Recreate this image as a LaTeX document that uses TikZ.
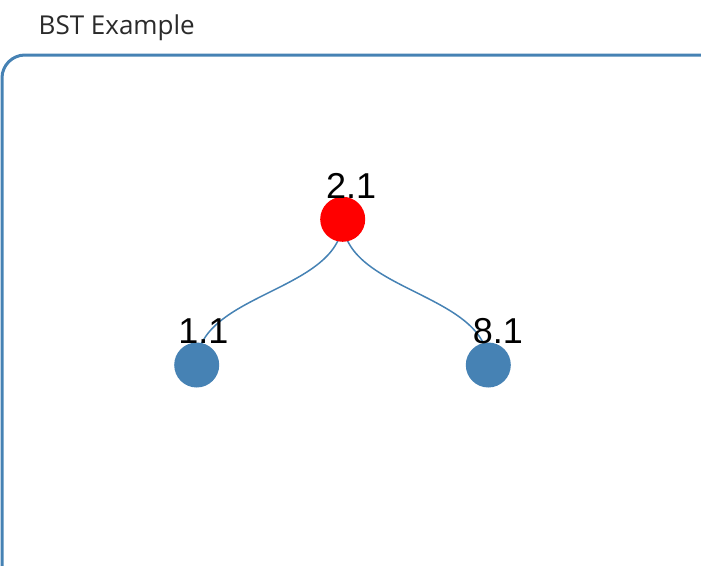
\documentclass[tikz,border=0pt]{standalone}
\usepackage{fontspec}
\setmainfont{Liberation Sans}
\newfontfamily\titlefont{Open Sans}
\definecolor{steel}{HTML}{4682B4}
\definecolor{titlegray}{HTML}{2A2A2A}
\begin{document}
\begin{tikzpicture}[x=1pt,y=-1pt,
  treenode/.style={circle, inner sep=0pt, minimum size=45pt},
  lbl/.style={anchor=base, font=\fontsize{36}{40}\selectfont, text=black, inner sep=0pt},
  link/.style={draw=steel, line width=1.5pt}]
\useasboundingbox (0,0) rectangle (701,565);
% title
\node[anchor=base west, inner sep=0pt, text=titlegray, font=\titlefont\fontsize{26}{30}\selectfont] (title) at (38.5,34) {BST Example};
% frame
\draw[steel, line width=3pt, rounded corners=23pt] (2,566) -- (2,55) -- (702,55);
% nodes
\coordinate (rc) at (342.7,219.3);
\coordinate (lc) at (196.7,365);
\coordinate (rcc) at (488.3,365);
\draw[link] (rc) .. controls +(0,73) and +(0,-73) .. (lc);
\draw[link] (rc) .. controls +(0,73) and +(0,-73) .. (rcc);
\node[treenode, fill=red] (root) at (rc) {};
\node[treenode, fill=steel] (left) at (lc) {};
\node[treenode, fill=steel] (right) at (rcc) {};
\node[lbl] (lroot) at (351.2,198.3) {2.1};
\node[lbl] (lleft) at (203.4,343.3) {1.1};
\node[lbl] (lright) at (497.8,343.3) {8.1};
\end{tikzpicture}
\end{document}
